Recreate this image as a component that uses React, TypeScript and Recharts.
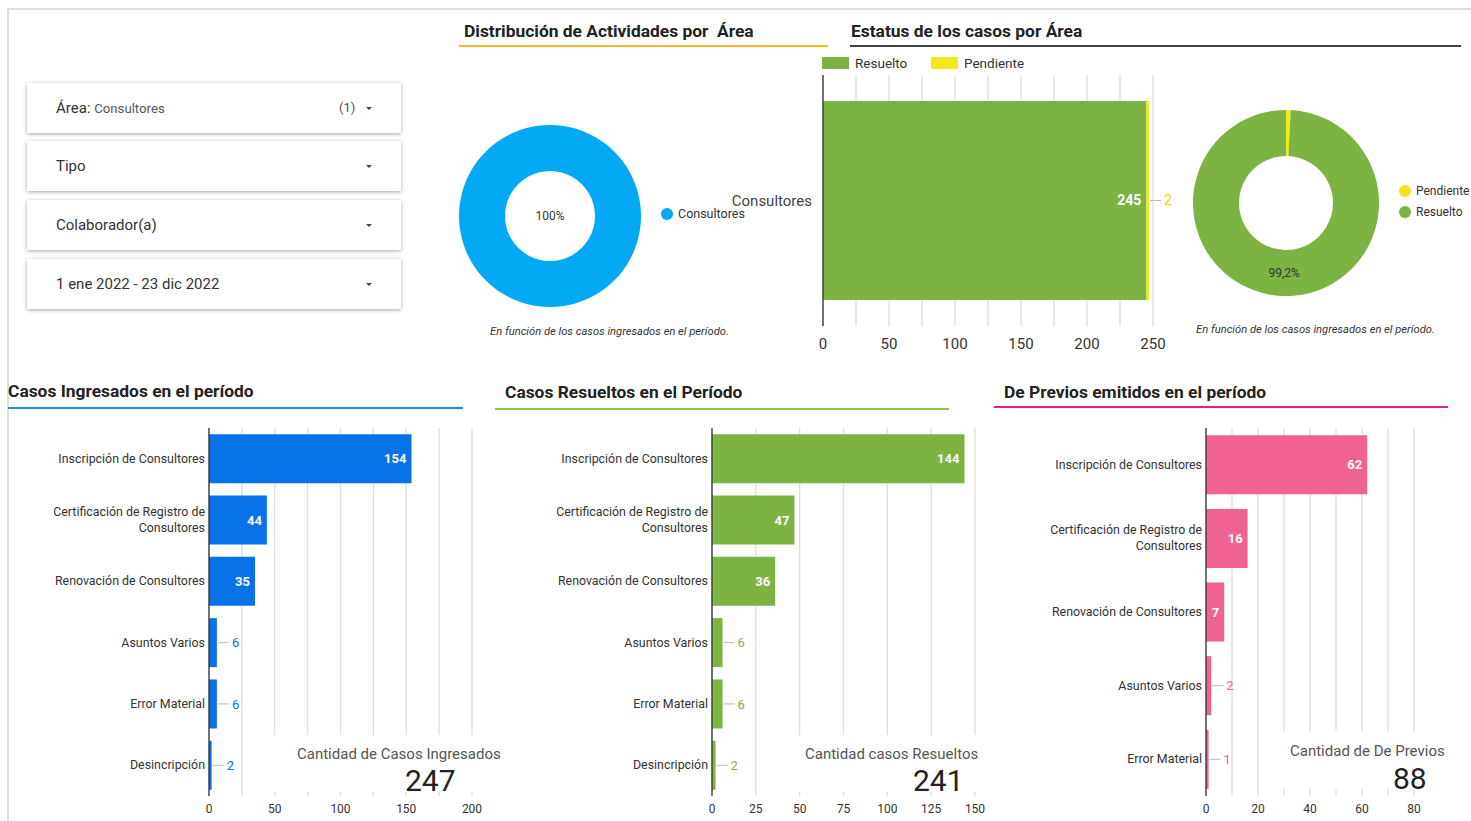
import React from 'react';
import { BarChart, Bar, XAxis, YAxis, CartesianGrid, LabelList, PieChart, Pie, Cell } from 'recharts';

const FONT = 'Roboto, "Noto Sans", Arial, sans-serif';

// ---------- data ----------
const filterNames = ['Área', 'Tipo', 'Colaborador(a)', '1 ene 2022 - 23 dic 2022'];
const selectedArea = 'Consultores';
const selectedCount = 1;

const areaNames = ['Consultores'];
const areaValues = [247];
const areaColors = ['#03A9F4'];

const statusCategories = ['Consultores'];
const resueltoValues = [245];
const pendienteValues = [2];
const statusNames = ['Resuelto', 'Pendiente'];
const statusTicks = [0, 25, 50, 75, 100, 125, 150, 175, 200, 225, 250];

const statusPieNames = ['Pendiente', 'Resuelto'];
const statusPieValues = [2, 245];

const tipoCategories = [
  'Inscripción de Consultores',
  'Certificación de Registro de Consultores',
  'Renovación de Consultores',
  'Asuntos Varios',
  'Error Material',
  'Desincripción',
];
const ingresadosValues = [154, 44, 35, 6, 6, 2];
const ingresadosTicks = [0, 25, 50, 75, 100, 125, 150, 175, 200];

const resueltosValues = [144, 47, 36, 6, 6, 2];
const resueltosTicks = [0, 25, 50, 75, 100, 125, 150];

const previosCategories = [
  'Inscripción de Consultores',
  'Certificación de Registro de Consultores',
  'Renovación de Consultores',
  'Asuntos Varios',
  'Error Material',
];
const previosValues = [62, 16, 7, 2, 1];
const previosTicks = [0, 10, 20, 30, 40, 50, 60, 70, 80];

const scorecardLabels = ['Cantidad de Casos Ingresados', 'Cantidad casos Resueltos', 'Cantidad de De Previos'];
const scorecardValues = [247, 241, 88];

const caption = 'En función de los casos ingresados en el período.';

// ---------- tables ----------
const statusData = statusCategories.map((c, i) => ({ area: c, Resuelto: resueltoValues[i], Pendiente: pendienteValues[i] }));
const areaData = areaNames.map((n, i) => ({ name: n, value: areaValues[i] }));
const statusPieData = statusPieNames.map((n, i) => ({ name: n, value: statusPieValues[i] }));
const ingresadosData = tipoCategories.map((c, i) => ({ cat: c, value: ingresadosValues[i] }));
const resueltosData = tipoCategories.map((c, i) => ({ cat: c, value: resueltosValues[i] }));
const previosData = previosCategories.map((c, i) => ({ cat: c, value: previosValues[i] }));

const GREEN = '#7CB342';
const YELLOW = '#F3E81C';
const BLUE = '#0A72E8';
const PINK = '#F06292';

// ---------- helpers ----------
function wrapWords(text: string, maxChars: number): string[] {
  const words = text.split(' ');
  const lines: string[] = [];
  let cur = '';
  words.forEach((w) => {
    const t = cur ? cur + ' ' + w : w;
    if (t.length > maxChars && cur) {
      lines.push(cur);
      cur = w;
    } else cur = t;
  });
  if (cur) lines.push(cur);
  return lines;
}

const WrapTick = (props: any) => {
  const { x, y, payload } = props;
  const lines = wrapWords(String(payload.value), 28);
  const lh = 16;
  const start = -((lines.length - 1) * lh) / 2;
  return (
    <text x={x} y={y} textAnchor="end" fill="#333" fontSize={12.4} fontFamily={FONT}>
      {lines.map((l, i) => (
        <tspan key={i} x={x} dy={i === 0 ? start + 4 : lh}>
          {l}
        </tspan>
      ))}
    </text>
  );
};

const makeValueLabel = (color: string, fontSize: number, insideMin: number, inside: boolean, outside: boolean) => (props: any) => {
  const vb = props.viewBox && props.viewBox.width !== undefined ? props.viewBox : props;
  const { x, y, width, height } = vb;
  const value = props.value;
  const cy = y + height / 2;
  if (width >= insideMin) {
    if (!inside) return null;
    return (
      <text x={x + width - 5} y={cy} dy="0.35em" textAnchor="end" fill="#fff" fontWeight={700} fontSize={fontSize} fontFamily={FONT}>
        {value}
      </text>
    );
  }
  if (!outside) return null;
  const x0 = x + width + 1;
  return (
    <g>
      <line x1={x0} y1={cy} x2={x0 + 11} y2={cy} stroke="#bbb" strokeWidth={1} />
      <text x={x0 + 14} y={cy} dy="0.35em" textAnchor="start" fill={color} fontSize={fontSize} fontFamily={FONT}>
        {value}
      </text>
    </g>
  );
};

const fmtPct = (p: number) => {
  const v = Math.round(p * 1000) / 10;
  return v % 1 === 0 ? `${v}%` : `${v.toFixed(1).replace('.', ',')}%`;
};

const pieLabel = (props: any) => {
  const { cx, cy, midAngle, innerRadius, outerRadius, percent } = props;
  if (percent < 0.05) return null;
  if (percent >= 0.999) {
    return (
      <text x={cx} y={cy} dy="0.35em" textAnchor="middle" fill="#333" fontSize={12} fontFamily={FONT}>
        {fmtPct(percent)}
      </text>
    );
  }
  const r = (innerRadius + outerRadius) / 2;
  const RAD = Math.PI / 180;
  const x = cx + r * Math.cos(-midAngle * RAD);
  const y = cy + r * Math.sin(-midAngle * RAD);
  return (
    <text x={x} y={y} dy="0.35em" textAnchor="middle" fill="#333" fontSize={12} fontFamily={FONT}>
      {fmtPct(percent)}
    </text>
  );
};

const abs = (left: number, top: number, extra: React.CSSProperties = {}): React.CSSProperties => ({
  position: 'absolute',
  left,
  top,
  ...extra,
});

const Title = ({ text, left, top }: { text: string; left: number; top: number }) => (
  <div style={abs(left, top, { fontSize: 17.4, fontWeight: 700, color: '#222', whiteSpace: 'pre', lineHeight: '20px' })}>{text}</div>
);

const Rule = ({ left, top, width, color }: { left: number; top: number; width: number; color: string }) => (
  <div style={abs(left, top, { width, height: 2, background: color })} />
);

const Arrow = ({ left, top }: { left: number; top: number }) => (
  <div
    style={abs(left, top, {
      width: 0,
      height: 0,
      borderLeft: '3px solid transparent',
      borderRight: '3px solid transparent',
      borderTop: '3px solid #444',
    })}
  />
);

const filterTops = [83, 141, 200, 259];

const HBar = ({
  data,
  ticks,
  labelEvery,
  color,
  left,
  width,
  rightMargin,
  gap,
}: {
  data: any[];
  ticks: number[];
  labelEvery: number;
  color: string;
  left: number;
  width: number;
  rightMargin: number;
  gap: string;
}) => (
  <div style={abs(left, 420)}>
    <BarChart
      width={width}
      height={401}
      data={data}
      layout="vertical"
      margin={{ top: 8, right: rightMargin, bottom: 0, left: 0 }}
      barCategoryGap={gap}
    >
      <CartesianGrid horizontal={false} vertical stroke="#dedede" strokeWidth={1.3} />
      <XAxis
        type="number"
        domain={[ticks[0], ticks[ticks.length - 1]]}
        ticks={ticks}
        interval={0}
        tickFormatter={(v: number) => (v % labelEvery === 0 ? String(v) : '')}
        axisLine={false}
        tickLine={false}
        height={25}
        tick={{ fontSize: 12, fill: '#333', fontFamily: FONT }}
      />
      <YAxis
        type="category"
        dataKey="cat"
        width={left === 8 ? 201 : 200}
        axisLine={{ stroke: '#333', strokeWidth: 1.3 }}
        tickLine={false}
        tickSize={0}
        tickMargin={4}
        interval={0}
        tick={<WrapTick />}
      />
      <Bar dataKey="value" fill={color} isAnimationActive={false}>
        <LabelList dataKey="value" content={makeValueLabel(color, 13, 15, true, true)} />
      </Bar>
    </BarChart>
  </div>
);

const NOMARGIN = { top: 0, right: 0, bottom: 0, left: 0 };

export default function App() {
  return (
    <div
      style={{
        position: 'absolute',
        left: 0,
        top: 0,
        width: 1471,
        height: 821,
        background: '#fff',
        overflow: 'hidden',
        fontFamily: FONT,
        color: '#333',
      }}
    >
      {/* frame */}
      <div style={abs(8, 8, { width: 1463, height: 2, background: '#dcdcdc' })} />
      <div style={abs(7, 8, { width: 2, height: 813, background: '#dcdcdc' })} />

      {/* filters */}
      {filterNames.map((f, i) => (
        <div
          key={f}
          style={abs(27, filterTops[i], {
            width: 374,
            height: 50,
            background: '#fff',
            boxShadow: '0 1px 4px rgba(0,0,0,0.35)',
          })}
        >
          <div style={abs(29, 0, { height: 50, lineHeight: '50px', fontSize: 15, color: '#333', whiteSpace: 'nowrap' })}>
            {f}
            {i === 0 ? (
              <>
                <span>: </span>
                <span style={{ fontSize: 13.2, color: '#555' }}>{selectedArea}</span>
              </>
            ) : null}
          </div>
          {i === 0 ? (
            <div style={abs(312, 0, { height: 50, lineHeight: '50px', fontSize: 13, color: '#555' })}>({selectedCount})</div>
          ) : null}
          <Arrow left={339} top={24} />
        </div>
      ))}

      {/* Distribución */}
      <Title text="Distribución de Actividades por  Área" left={464} top={21} />
      <Rule left={459} top={45} width={369} color="#F8B828" />
      <div style={abs(450, 116)}>
        <PieChart width={200} height={200} margin={NOMARGIN}>
          <Pie
            data={areaData}
            dataKey="value"
            nameKey="name"
            cx={100}
            cy={100}
            innerRadius={45}
            outerRadius={91}
            startAngle={90}
            endAngle={-270}
            stroke="none"
            label={pieLabel}
            labelLine={false}
            isAnimationActive={false}
          >
            {areaData.map((d, i) => (
              <Cell key={d.name} fill={areaColors[i]} />
            ))}
          </Pie>
        </PieChart>
      </div>
      {areaNames.map((n, i) => (
        <React.Fragment key={n}>
          <div style={abs(661, 208, { width: 12, height: 12, borderRadius: 6, background: areaColors[i] })} />
          <div style={abs(678, 206, { fontSize: 12.5, lineHeight: '16px', color: '#333' })}>{n}</div>
        </React.Fragment>
      ))}
      <div style={abs(490, 325, { fontSize: 11.2, lineHeight: '14px', fontStyle: 'italic', color: '#333', whiteSpace: 'nowrap' })}>{caption}</div>

      {/* Estatus */}
      <Title text="Estatus de los casos por Área" left={851} top={21} />
      <Rule left={850} top={45} width={611} color="#444" />
      <div style={abs(822, 57, { width: 27, height: 12, background: GREEN })} />
      <div style={abs(855, 55, { fontSize: 13.5, lineHeight: '16px', color: '#333' })}>{statusNames[0]}</div>
      <div style={abs(931, 57, { width: 27, height: 12, background: YELLOW })} />
      <div style={abs(964, 55, { fontSize: 13.5, lineHeight: '16px', color: '#333' })}>{statusNames[1]}</div>

      <div style={abs(700, 70)}>
        <BarChart width={500} height={290} data={statusData} layout="vertical" margin={{ top: 5, right: 47, bottom: 0, left: 0 }}>
          <CartesianGrid horizontal={false} vertical stroke="#dedede" strokeWidth={1.3} />
          <XAxis
            type="number"
            domain={[0, 250]}
            ticks={statusTicks}
            interval={0}
            tickFormatter={(v: number) => (v % 50 === 0 ? String(v) : '')}
            axisLine={false}
            tickLine={false}
            tickMargin={6}
            height={34}
            tick={{ fontSize: 15, fill: '#333', fontFamily: FONT }}
          />
          <YAxis
            type="category"
            dataKey="area"
            width={123}
            axisLine={{ stroke: '#333', strokeWidth: 1.3 }}
            tickLine={false}
            tickSize={6}
            tickMargin={5}
            tick={{ fontSize: 15, fill: '#444', fontFamily: FONT }}
          />
          <Bar dataKey="Resuelto" stackId="s" fill={GREEN} barSize={199} isAnimationActive={false}>
            <LabelList dataKey="Resuelto" content={makeValueLabel(GREEN, 14, 15, true, false)} />
          </Bar>
          <Bar dataKey="Pendiente" stackId="s" fill={YELLOW} barSize={199} isAnimationActive={false}>
            <LabelList dataKey="Pendiente" content={makeValueLabel('#F0D800', 14, 15, false, true)} />
          </Bar>
        </BarChart>
      </div>

      <div style={abs(1186, 103)}>
        <PieChart width={200} height={200} margin={NOMARGIN}>
          <Pie
            data={statusPieData}
            dataKey="value"
            nameKey="name"
            cx={100}
            cy={100}
            innerRadius={47}
            outerRadius={93}
            startAngle={90}
            endAngle={-270}
            stroke="none"
            label={pieLabel}
            labelLine={false}
            isAnimationActive={false}
          >
            <Cell fill={YELLOW} />
            <Cell fill={GREEN} />
          </Pie>
        </PieChart>
      </div>
      {statusPieNames.map((n, i) => (
        <React.Fragment key={n}>
          <div
            style={abs(1399, 185 + i * 21, {
              width: 12,
              height: 12,
              borderRadius: 6,
              background: i === 0 ? '#F6E21A' : GREEN,
            })}
          />
          <div style={abs(1416, 183 + i * 21, { fontSize: 12, lineHeight: '16px', color: '#333', whiteSpace: 'nowrap' })}>{n}</div>
        </React.Fragment>
      ))}
      <div style={abs(1196, 323, { fontSize: 11.2, lineHeight: '14px', fontStyle: 'italic', color: '#333', whiteSpace: 'nowrap' })}>{caption}</div>

      {/* bottom titles */}
      <Title text="Casos Ingresados en el período" left={8} top={381} />
      <Rule left={8} top={407} width={455} color="#1E88E5" />
      <Title text="Casos Resueltos en el Período" left={505} top={382} />
      <Rule left={495} top={408} width={454} color="#8BC34A" />
      <Title text="De Previos emitidos en el período" left={1004} top={382} />
      <Rule left={994} top={406} width={454} color="#EC1C8E" />

      <HBar data={ingresadosData} ticks={ingresadosTicks} labelEvery={50} color={BLUE} left={8} width={484} rightMargin={20} gap="10%" />
      <HBar data={resueltosData} ticks={resueltosTicks} labelEvery={25} color={GREEN} left={512} width={483} rightMargin={20} gap="10%" />
      <HBar data={previosData} ticks={previosTicks} labelEvery={20} color={PINK} left={1006} width={438} rightMargin={30} gap="10%" />

      {/* scorecards */}
      <div style={abs(262, 735, { width: 245, height: 57, background: '#fff' })} />
      <div style={abs(297, 745, { fontSize: 15, lineHeight: '18px', color: '#555', whiteSpace: 'nowrap' })}>{scorecardLabels[0]}</div>
      <div style={abs(405, 763, { fontSize: 30, lineHeight: '36px', color: '#222' })}>{scorecardValues[0]}</div>

      <div style={abs(785, 735, { width: 200, height: 57, background: '#fff' })} />
      <div style={abs(805, 745, { fontSize: 15, lineHeight: '18px', color: '#555', whiteSpace: 'nowrap' })}>{scorecardLabels[1]}</div>
      <div style={abs(913, 763, { fontSize: 30, lineHeight: '36px', color: '#222' })}>{scorecardValues[1]}</div>

      <div style={abs(1272, 731, { width: 185, height: 58, background: '#fff' })} />
      <div style={abs(1290, 742, { fontSize: 15, lineHeight: '18px', color: '#555', whiteSpace: 'nowrap' })}>{scorecardLabels[2]}</div>
      <div style={abs(1393, 761, { fontSize: 30, lineHeight: '36px', color: '#222' })}>{scorecardValues[2]}</div>
    </div>
  );
}
